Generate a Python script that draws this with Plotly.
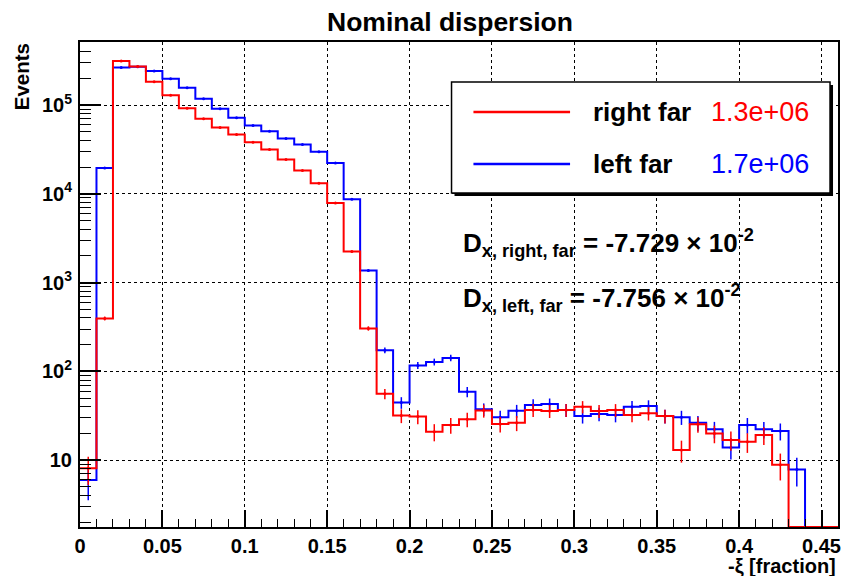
import numpy as np
import plotly.graph_objects as go

# ---------------- data ----------------
bin_edges = [round(0.01 * i, 2) for i in range(47)]  # 0.00 ... 0.46
right_far = [8.1, 395, 3.14e5, 2.71e5, 1.83e5, 1.29e5, 9.2e4, 7.0e4, 5.6e4, 4.67e4,
             3.82e4, 3.16e4, 2.43e4, 1.83e4, 1.32e4, 7.9e3, 2.24e3, 305, 56, 31.8,
             31, 20.9, 24.9, 28.9, 36.2, 25.6, 26.4, 36.8, 35.9, 36.8,
             40, 35.9, 36.8, 32.4, 33.8, 31.5, 13, 25.4, 20, 16.9,
             16.1, 19.2, 8.9, 0, 0, 0]
left_far = [6.0, 1.96e4, 2.64e5, 2.70e5, 2.42e5, 1.98e5, 1.57e5, 1.18e5, 9.1e4, 7.2e4,
            5.9e4, 5.08e4, 4.21e4, 3.6e4, 2.97e4, 2.23e4, 8.7e3, 1.37e3, 173, 44.6,
            117, 128, 142, 59, 37.5, 30.5, 36, 42, 43, 36.8,
            31.5, 33.2, 32.4, 40, 40.9, 31.5, 30.5, 26.4, 22.3, 13.9,
            24.9, 22.3, 21.3, 7.85, 0, 0]
x_tick_vals = [0, 0.05, 0.1, 0.15, 0.2, 0.25, 0.3, 0.35, 0.4, 0.45]
x_tick_text = ["0", "0.05", "0.1", "0.15", "0.2", "0.25", "0.3", "0.35", "0.4", "0.45"]
y_tick_vals = [10, 100, 1e3, 1e4, 1e5]
y_tick_text = ["10", "10<sup>2</sup>", "10<sup>3</sup>", "10<sup>4</sup>", "10<sup>5</sup>"]
series = [("left far", left_far, "#0000ff", "1.7e+06"),
          ("right far", right_far, "#ff0000", "1.3e+06")]

# ---------------- layout geometry ----------------
W, H = 848, 576
L, R, T, B = 80, 841, 42, 527
LOG_YMIN, LOG_YMAX = 0.248, 5.71
YFLOOR = 10 ** LOG_YMIN
FONT = "Liberation Sans, Arial, Helvetica, sans-serif"


def px(x):
    return (x - L) / (R - L)


def py(y):
    return (B - y) / (B - T)


fig = go.Figure()
edges = np.array(bin_edges)
centers = 0.5 * (edges[:-1] + edges[1:])
for name, vals, col, _ in series:
    v = np.array(vals, dtype=float)
    step_y = np.where(v > 0, v, YFLOOR)
    fig.add_trace(go.Scatter(
        x=edges, y=np.append(step_y, step_y[-1]), mode="lines",
        line=dict(color=col, width=2, shape="hv"), showlegend=False,
        hoverinfo="skip"))
    nz = v > 0
    fig.add_trace(go.Scatter(
        x=centers[nz], y=v[nz], mode="markers",
        marker=dict(color=col, size=3),
        error_y=dict(type="data", array=np.sqrt(v[nz]), color=col,
                     thickness=1.5, width=0),
        showlegend=False, name=name))

minor_y = [m * 10 ** k for k in range(0, 6) for m in range(2, 10)
           if LOG_YMIN <= np.log10(m * 10 ** k) <= LOG_YMAX]

fig.update_xaxes(
    range=[0, 0.46], tickvals=x_tick_vals, ticktext=x_tick_text,
    ticks="inside", ticklen=17, tickwidth=1.5, tickcolor="black",
    minor=dict(dtick=0.01, tick0=0, ticks="inside", ticklen=8, tickcolor="black",
               tickwidth=1, showgrid=False),
    showgrid=True, gridcolor="black", griddash="dot", gridwidth=1,
    showline=True, linecolor="black", linewidth=2, mirror=True, zeroline=False,
    tickfont=dict(family=FONT, size=20, color="black", weight="bold"),
    ticklabelstandoff=0)
fig.update_yaxes(
    type="log", range=[LOG_YMIN, LOG_YMAX], tickvals=y_tick_vals, ticktext=y_tick_text,
    ticks="inside", ticklen=21, tickwidth=1.5, tickcolor="black",
    minor=dict(tickvals=minor_y, ticks="inside", ticklen=11, tickcolor="black",
               tickwidth=1, showgrid=False),
    showgrid=True, gridcolor="black", griddash="dot", gridwidth=1,
    showline=True, linecolor="black", linewidth=2, mirror=True, zeroline=False,
    tickfont=dict(family=FONT, size=20, color="black", weight="bold"),
    ticklabelstandoff=2)

shapes = []
# legend box with shadow
shapes.append(dict(type="rect", xref="paper", yref="paper", layer="above",
                   x0=px(456), x1=px(836), y0=py(196), y1=py(85),
                   fillcolor="black", line=dict(width=0)))
shapes.append(dict(type="rect", xref="paper", yref="paper", layer="above",
                   x0=px(453), x1=px(833), y0=py(193), y1=py(82),
                   fillcolor="white", line=dict(color="black", width=1.5)))
annotations = []
leg_rows = [("right far", "#ff0000", "1.3e+06", 112), ("left far", "#0000ff", "1.7e+06", 164)]
for lab, col, tot, yc in leg_rows:
    shapes.append(dict(type="line", xref="paper", yref="paper", layer="above",
                       x0=px(475), x1=px(572), y0=py(yc), y1=py(yc),
                       line=dict(color=col, width=2.5)))
    annotations.append(dict(xref="paper", yref="paper", x=px(593), y=py(yc),
                            xanchor="left", yanchor="middle", showarrow=False, text=lab,
                            font=dict(family=FONT, size=26, color="black", weight="bold")))
    annotations.append(dict(xref="paper", yref="paper", x=px(711), y=py(yc),
                            xanchor="left", yanchor="middle", showarrow=False, text=tot,
                            font=dict(family=FONT, size=27, color=col)))

annotations.append(dict(xref="paper", yref="paper", x=px(463), y=py(243),
                        xanchor="left", yanchor="middle", showarrow=False,
                        text="D<sub>x, right, far</sub> = -7.729 × 10<sup>-2</sup>",
                        font=dict(family=FONT, size=26, color="black", weight="bold")))
annotations.append(dict(xref="paper", yref="paper", x=px(463), y=py(298),
                        xanchor="left", yanchor="middle", showarrow=False,
                        text="D<sub>x, left, far</sub> = -7.756 × 10<sup>-2</sup>",
                        font=dict(family=FONT, size=26, color="black", weight="bold")))
annotations.append(dict(xref="paper", yref="paper", x=px(451), y=py(22),
                        xanchor="center", yanchor="middle", showarrow=False,
                        text="Nominal dispersion",
                        font=dict(family=FONT, size=26.5, color="black", weight="bold")))
annotations.append(dict(xref="paper", yref="paper", x=px(22), y=py(77),
                        xanchor="center", yanchor="middle", showarrow=False, textangle=-90,
                        text="Events",
                        font=dict(family=FONT, size=20.5, color="black", weight="bold")))
annotations.append(dict(xref="paper", yref="paper", x=px(841), y=py(566),
                        xanchor="right", yanchor="middle", showarrow=False,
                        text="-ξ [fraction]",
                        font=dict(family=FONT, size=20, color="black", weight="bold")))

fig.update_layout(
    width=W, height=H, margin=dict(l=L, r=W - R, t=T, b=H - B),
    paper_bgcolor="white", plot_bgcolor="white", showlegend=False,
    shapes=shapes, annotations=annotations)

fig.write_html("out.html")
